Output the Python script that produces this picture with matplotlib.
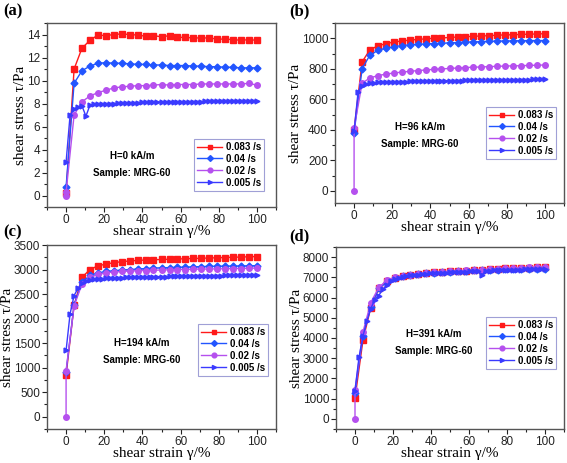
import matplotlib
matplotlib.use('Agg')
import matplotlib.pyplot as plt
from matplotlib.ticker import MultipleLocator

plt.rcParams['font.family'] = ['Liberation Sans', 'DejaVu Sans']

# strain grid (%) for the 25-point series
x25 = [0, 4.2, 8.3, 12.5, 16.7, 20.8, 25, 29.2, 33.3, 37.5, 41.7, 45.8, 50,
       54.2, 58.3, 62.5, 66.7, 70.8, 75, 79.2, 83.3, 87.5, 91.7, 95.8, 100]
# purple series has an extra zero point at the start
x26 = [0] + x25
# denser grid for the 0.005 /s series
x49 = [0, 2.1, 4.2, 6.3, 8.3, 10.4, 12.5, 14.6, 16.7, 18.8, 20.8, 22.9, 25,
       27.1, 29.2, 31.3, 33.3, 35.4, 37.5, 39.6, 41.7, 43.8, 45.8, 47.9, 50,
       52.1, 54.2, 56.3, 58.3, 60.4, 62.5, 64.6, 66.7, 68.8, 70.8, 72.9, 75,
       77.1, 79.2, 81.3, 83.3, 85.4, 87.5, 89.6, 91.7, 93.8, 95.8, 97.9, 100]

rates = ['0.083 /s', '0.04 /s', '0.02 /s', '0.005 /s']

# (a) H=0 kA/m
a_083 = [0.2, 11.0, 12.8, 13.5, 13.95, 13.9, 14.0, 14.05, 14.0, 13.95, 13.85, 13.9,
         13.8, 13.9, 13.75, 13.75, 13.7, 13.7, 13.7, 13.6, 13.6, 13.55, 13.5, 13.55, 13.5]
a_004 = [0.75, 9.75, 10.85, 11.25, 11.5, 11.55, 11.5, 11.5, 11.45, 11.4, 11.4, 11.35,
         11.35, 11.3, 11.3, 11.3, 11.25, 11.25, 11.2, 11.2, 11.15, 11.15, 11.1, 11.1, 11.1]
a_002 = [0.0, 0.3, 7.0, 8.15, 8.65, 8.95, 9.15, 9.35, 9.45, 9.5, 9.55, 9.55, 9.6, 9.65,
         9.6, 9.65, 9.65, 9.65, 9.7, 9.7, 9.7, 9.7, 9.7, 9.7, 9.75, 9.6]
a_0005 = [2.9, 7.0, 7.55, 7.7, 7.8, 6.9, 7.85, 7.95, 7.95, 7.95, 7.97, 8.0, 8.0,
          8.02, 8.03, 8.05, 8.05, 8.07, 8.08, 8.1, 8.1, 8.1, 8.1, 8.12, 8.12,
          8.13, 8.13, 8.15, 8.15, 8.15, 8.15, 8.15, 8.17, 8.17, 8.17, 8.18, 8.18,
          8.18, 8.2, 8.2, 8.2, 8.2, 8.2, 8.2, 8.2, 8.2, 8.2, 8.2, 8.2]

# (b) H=96 kA/m
b_083 = [400, 845, 925, 950, 965, 975, 982, 988, 992, 996, 1000, 1002, 1005, 1008,
         1010, 1013, 1015, 1017, 1020, 1022, 1023, 1025, 1027, 1028, 1030]
b_004 = [380, 800, 890, 920, 935, 945, 952, 957, 960, 963, 965, 967, 970, 972, 975,
         976, 978, 980, 981, 982, 983, 984, 985, 985, 985]
b_002 = [0, 410, 705, 740, 755, 765, 772, 778, 783, 788, 792, 796, 799, 802, 805, 808,
         810, 812, 814, 816, 818, 819, 820, 822, 823, 825]
b_0005 = [390, 650, 690, 700, 705, 708, 710, 711, 712, 713, 714, 715, 716, 716, 717,
          717, 718, 718, 719, 719, 720, 720, 721, 721, 722, 722, 723, 723, 724,
          724, 725, 725, 725, 726, 726, 726, 727, 727, 727, 728, 728, 728, 729,
          729, 729, 730, 730, 730, 730]

# (c) H=194 kA/m
c_083 = [850, 2270, 2840, 3000, 3075, 3110, 3140, 3160, 3175, 3185, 3195, 3200, 3205,
         3210, 3215, 3220, 3225, 3230, 3235, 3240, 3245, 3250, 3255, 3260, 3265]
c_004 = [920, 2280, 2740, 2880, 2930, 2960, 2975, 2990, 3000, 3010, 3020, 3030, 3035,
         3040, 3045, 3050, 3055, 3060, 3065, 3065, 3070, 3070, 3075, 3075, 3080]
c_002 = [0, 940, 2260, 2700, 2840, 2900, 2930, 2950, 2960, 2970, 2975, 2980, 2985,
         2990, 2995, 3000, 3000, 3005, 3010, 3010, 3015, 3015, 3020, 3020, 3025, 3030]
c_0005 = [1350, 2100, 2470, 2620, 2720, 2760, 2790, 2800, 2810, 2815, 2820, 2825,
          2830, 2832, 2835, 2838, 2840, 2842, 2845, 2847, 2850, 2852, 2854, 2855,
          2857, 2858, 2860, 2862, 2863, 2865, 2866, 2868, 2869, 2870, 2872, 2873,
          2875, 2876, 2877, 2878, 2880, 2881, 2882, 2883, 2884, 2885, 2886, 2888, 2890]

# (d) H=391 kA/m
d_083 = [1020, 3900, 5500, 6450, 6800, 6980, 7080, 7130, 7170, 7200, 7240, 7260, 7290,
         7310, 7330, 7360, 7380, 7400, 7420, 7440, 7450, 7470, 7480, 7490, 7500]
d_004 = [1280, 4100, 5550, 6450, 6750, 6950, 7050, 7120, 7160, 7200, 7230, 7260, 7280,
         7300, 7320, 7340, 7360, 7370, 7380, 7390, 7400, 7410, 7420, 7430, 7430]
d_002 = [0, 1450, 4300, 5750, 6500, 6850, 7000, 7080, 7140, 7180, 7220, 7250, 7280,
         7300, 7320, 7340, 7360, 7380, 7400, 7420, 7440, 7460, 7480, 7500, 7510, 7520]
d_0005 = [1400, 3050, 4100, 4850, 5450, 5900, 6100, 6400, 6600, 6800, 6900, 6980,
          7030, 7070, 7100, 7120, 7140, 7160, 7180, 7190, 7200, 7210, 7220, 7230,
          7240, 7250, 7260, 7270, 7280, 7290, 7300, 7300, 7100, 7320, 7330, 7340,
          7350, 7350, 7360, 7370, 7370, 7380, 7380, 7390, 7390, 7400, 7400, 7410, 7420]

colors = ['#ff1a1a', '#2255ff', '#b550ee', '#3a3aff']
markers = ['s', 'D', 'o', '>']
msizes = [4, 3.5, 4, 3.5]

panels = [
    dict(tag='(a)', pos=[47, 23, 229, 184], ylim=(-1, 15), major=2, minor=1,
         ys=[a_083, a_004, a_002, a_0005], field='H=0 kA/m',
         txt=(132, 156), leg=(194, 139), tagxy=(3, 11)),
    dict(tag='(b)', pos=[335, 23, 229, 180], ylim=(-80, 1100), major=200, minor=100,
         ys=[b_083, b_004, b_002, b_0005], field='H=96 kA/m',
         txt=(420, 127), leg=(486, 107), tagxy=(289, 11)),
    dict(tag='(c)', pos=[47, 245, 229, 184], ylim=(-250, 3500), major=500, minor=250,
         ys=[c_083, c_004, c_002, c_0005], field='H=194 kA/m',
         txt=(142, 343), leg=(198, 324), tagxy=(3, 232)),
    dict(tag='(d)', pos=[336, 247, 228, 182], ylim=(-500, 8500), major=1000, minor=500,
         ys=[d_083, d_004, d_002, d_0005], field='H=391 kA/m',
         txt=(434, 334), leg=(486, 317), tagxy=(289, 236)),
]
xs = [x25, x25, x26, x49]

W, H = 567, 463
fig = plt.figure(figsize=(W / 100, H / 100), dpi=100)
serif = ['Liberation Serif', 'DejaVu Serif']

for p in panels:
    l, t, w, h = p['pos']
    ax = fig.add_axes([l / W, 1 - (t + h) / H, w / W, h / H])
    for x, y, c, m, s, lab in zip(xs, p['ys'], colors, markers, msizes, rates):
        ax.plot(x, y, color=c, marker=m, ms=s, lw=1, mec=c, mfc=c, label=lab)
    ax.set_xlim(-10, 110)
    ax.set_ylim(*p['ylim'])
    ax.xaxis.set_major_locator(MultipleLocator(20))
    ax.xaxis.set_minor_locator(MultipleLocator(10))
    ax.yaxis.set_major_locator(MultipleLocator(p['major']))
    ax.yaxis.set_minor_locator(MultipleLocator(p['minor']))
    ax.tick_params(which='both', direction='out', labelsize=8.5, colors='#222222',
                   top=False, right=False, pad=1.5)
    ax.tick_params(which='major', length=3.5, width=0.8)
    ax.tick_params(which='minor', length=2, width=0.8)
    for s in ax.spines.values():
        s.set_color('#555555')
        s.set_linewidth(1.0)
    ax.set_xlabel('shear strain γ/%', family=serif, fontsize=11, labelpad=-1)
    ax.set_ylabel('shear stress τ/Pa', family=serif, fontsize=11, labelpad=0)

    tx, ty = p['txt']
    fig.text(tx / W, 1 - ty / H, p['field'], ha='center', va='center',
             fontsize=7, fontweight='bold')
    fig.text(tx / W, 1 - (ty + 17) / H, 'Sample: MRG-60', ha='center', va='center',
             fontsize=7, fontweight='bold')

    lx, ly = p['leg']
    leg = ax.legend(loc='upper left',
                    bbox_to_anchor=((lx - l) / w, 1 - (ly - t) / h),
                    prop=dict(weight='bold', size=7), frameon=True, fancybox=False,
                    handlelength=2.6, handletextpad=0.4, labelspacing=0.2,
                    borderpad=0.3, borderaxespad=0, markerscale=0.85)
    leg.get_frame().set_edgecolor('#8888cc')
    leg.get_frame().set_linewidth(0.8)

    gx, gy = p['tagxy']
    fig.text(gx / W, 1 - gy / H, p['tag'], family=serif, fontsize=12,
             fontweight='bold', va='center', ha='left')

fig.savefig('out.png', dpi=100)
